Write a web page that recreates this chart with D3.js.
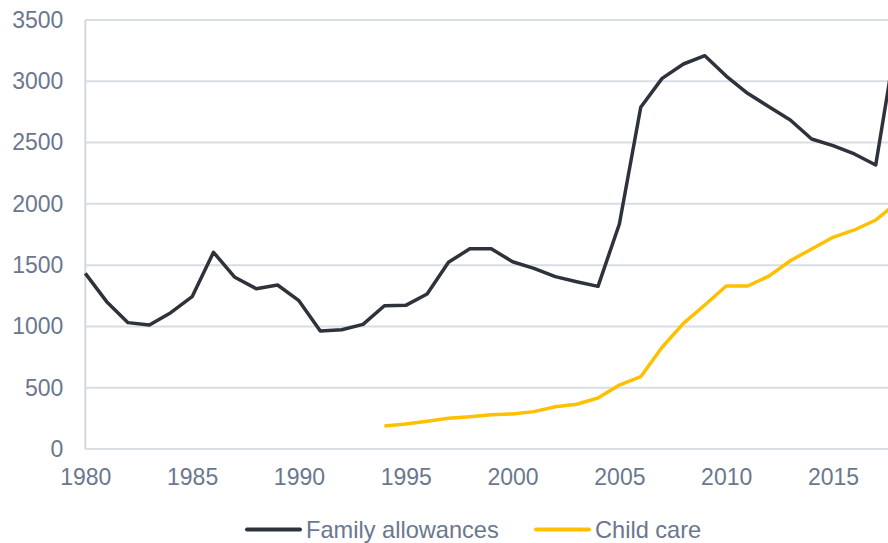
<!DOCTYPE html>
<html>
<head>
<meta charset="utf-8">
<script src="https://cdn.jsdelivr.net/npm/d3@7"></script>
<style>
  html, body { margin: 0; padding: 0; background: #ffffff; }
  svg { display: block; font-family: "Liberation Sans", Arial, sans-serif; }
</style>
</head>
<body>
<svg id="chart" width="888" height="543"></svg>
<script>
// Public spending series, 1980–2018
const years = d3.range(1980, 2019);
const familyAllowances = [
  1433, 1202, 1031, 1012, 1112, 1243, 1605, 1401, 1308, 1338,
  1210, 963, 973, 1017, 1169, 1172, 1265, 1523, 1634, 1634,
  1528, 1474, 1406, 1365, 1327, 1836, 2788, 3024, 3141, 3209,
  3043, 2902, 2793, 2684, 2529, 2475, 2407, 2317, 3380
];
const childCareYears = d3.range(1994, 2019);
const childCare = [
  188, 204, 226, 250, 264, 280, 286, 305, 345, 365,
  416, 522, 590, 830, 1025, 1175, 1330, 1330, 1411, 1536,
  1632, 1727, 1787, 1868, 2010
];
const yTicks = [0, 500, 1000, 1500, 2000, 2500, 3000, 3500];
const xTicks = [1980, 1985, 1990, 1995, 2000, 2005, 2010, 2015];
const seriesNames = ["Family allowances", "Child care"];
const seriesColors = ["#2e323b", "#ffc000"];

const svg = d3.select("#chart");
const textColor = "#6b778e";
const gridColor = "#d9dde4";
const fontFamily = '"Liberation Sans", Arial, sans-serif';

const x = d3.scaleLinear().domain([1980, 2018]).range([85.3, 897.1]);
const y = d3.scaleLinear().domain([0, 3500]).range([449, 20]);

// horizontal gridlines
svg.append("g")
  .selectAll("line")
  .data(yTicks)
  .join("line")
  .attr("x1", x(1980))
  .attr("x2", x(2018))
  .attr("y1", d => y(d))
  .attr("y2", d => y(d))
  .attr("stroke", gridColor)
  .attr("stroke-width", 2);

// left axis line
svg.append("line")
  .attr("x1", x(1980)).attr("x2", x(1980))
  .attr("y1", y(3500)).attr("y2", y(0))
  .attr("stroke", "#d3d7df")
  .attr("stroke-width", 2);

// y tick labels
const yAxis = d3.axisLeft(y).tickValues(yTicks).tickFormat(d3.format("d")).tickSize(0).tickPadding(22);
const gy = svg.append("g").attr("transform", `translate(${x(1980)},0)`).call(yAxis);
gy.select(".domain").remove();
gy.selectAll("text")
  .attr("fill", textColor)
  .style("font-size", "23px")
  .style("font-family", fontFamily);

// x tick labels
const xAxis = d3.axisBottom(x).tickValues(xTicks).tickFormat(d3.format("d")).tickSize(0).tickPadding(20);
const gx = svg.append("g").attr("transform", `translate(0,${y(0)})`).call(xAxis);
gx.select(".domain").remove();
gx.selectAll("text")
  .attr("fill", textColor)
  .style("font-size", "23px")
  .style("font-family", fontFamily);

// lines
const line = d3.line().x(d => x(d[0])).y(d => y(d[1]));
const seriesData = [
  years.map((yr, i) => [yr, familyAllowances[i]]),
  childCareYears.map((yr, i) => [yr, childCare[i]])
];
svg.append("g")
  .selectAll("path")
  .data(seriesData)
  .join("path")
  .attr("d", line)
  .attr("fill", "none")
  .attr("stroke", (d, i) => seriesColors[i])
  .attr("stroke-width", 3.5)
  .attr("stroke-linejoin", "round");

// legend
const legendItems = [
  { name: seriesNames[0], color: seriesColors[0], x0: 247 },
  { name: seriesNames[1], color: seriesColors[1], x0: 536 }
];
const lg = svg.append("g");
legendItems.forEach(item => {
  lg.append("line")
    .attr("x1", item.x0).attr("x2", item.x0 + 53)
    .attr("y1", 529.5).attr("y2", 529.5)
    .attr("stroke", item.color)
    .attr("stroke-width", 4)
    .attr("stroke-linecap", "round");
  lg.append("text")
    .attr("x", item.x0 + 59)
    .attr("y", 529.5)
    .attr("dy", "0.35em")
    .attr("fill", textColor)
    .style("font-size", "23.6px")
    .text(item.name);
});
</script>
</body>
</html>
